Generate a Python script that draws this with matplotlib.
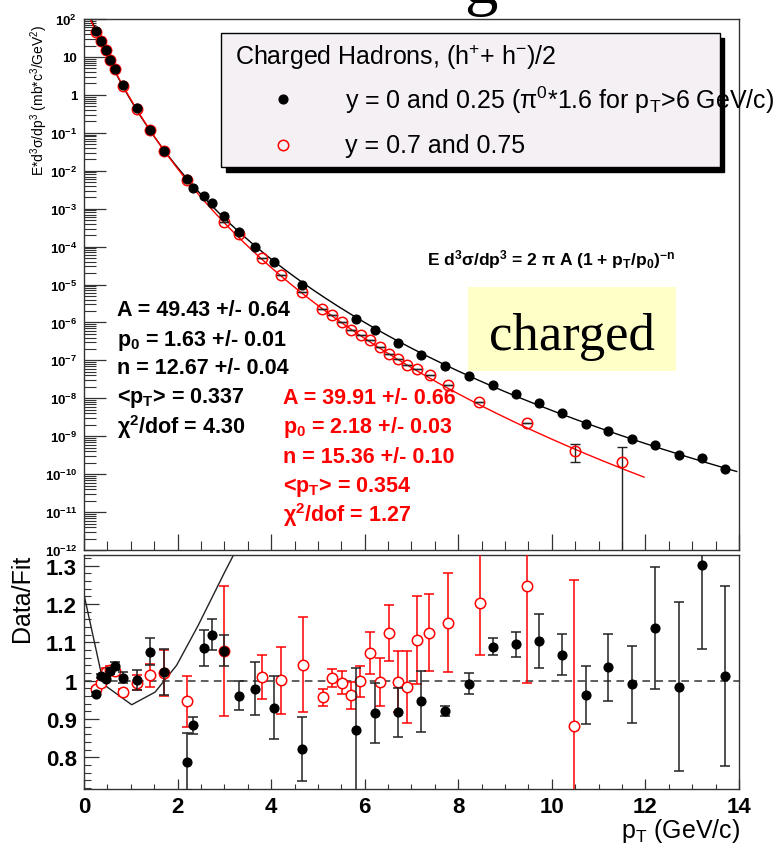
import numpy as np
import matplotlib
matplotlib.use("Agg")
import matplotlib.pyplot as plt
from matplotlib.patches import Rectangle
from matplotlib.ticker import LogLocator, MultipleLocator, NullFormatter

plt.rcParams["font.family"] = ["Liberation Sans", "DejaVu Sans"]
plt.rcParams["mathtext.default"] = "regular"

# ---------------- invariant yields, y = 0 and 0.25 ----------------
pt_mid = [0.25, 0.36, 0.46, 0.56, 0.66, 0.84, 1.13, 1.42, 1.72, 2.21, 2.32, 2.56,
          2.73, 2.99, 3.31, 3.66, 4.06, 4.65, 5.81, 6.23, 6.72, 7.21, 7.71, 8.23,
          8.75, 9.24, 9.72, 10.21, 10.72, 11.21, 11.72, 12.21, 12.71, 13.21, 13.70]
yield_mid = [47, 27, 15, 8.3, 4.8, 1.78, 0.44, 0.12, 0.034, 5.9e-3, 3.5e-3, 2.2e-3,
             1.4e-3, 6.5e-4, 2.5e-4, 1.0e-4, 4.0e-5, 9.8e-6, 1.2e-6, 6.5e-7, 2.85e-7,
             1.4e-7, 6.9e-8, 3.8e-8, 2.2e-8, 1.3e-8, 7.3e-9, 4.1e-9, 2.1e-9, 1.35e-9,
             8.3e-10, 5.9e-10, 3.2e-10, 2.7e-10, 1.4e-10]
ratio_mid = [0.965, 1.012, 1.005, 1.025, 1.038, 1.008, 1.001, 1.075, 1.023, 0.788, 0.883,
             1.084, 1.120, 1.078, 0.961, 0.979, 0.929, 0.821, 0.870, 0.916, 0.918, 0.946,
             0.921, 0.992, 1.089, 1.095, 1.104, 1.068, 0.963, 1.035, 0.990, 1.137, 0.984,
             1.303, 1.011]
ratio_mid_err = [0.005, 0.006, 0.006, 0.008, 0.010, 0.015, 0.026, 0.035, 0.060, 0.074,
                 0.023, 0.047, 0.040, 0.041, 0.037, 0.070, 0.082, 0.083, 0.164, 0.079,
                 0.064, 0.080, 0.014, 0.028, 0.023, 0.033, 0.070, 0.054, 0.075, 0.087,
                 0.100, 0.160, 0.220, 0.220, 0.235]

# ---------------- invariant yields, y = 0.7 and 0.75 ----------------
pt_fwd = [0.25, 0.36, 0.46, 0.56, 0.66, 0.84, 1.13, 1.42, 1.72, 2.21, 3.00, 3.31, 3.81,
          4.21, 4.66, 5.09, 5.31, 5.51, 5.71, 5.92, 6.12, 6.32, 6.52, 6.72, 6.91, 7.11,
          7.39, 7.79, 8.45, 9.46, 10.49, 11.49]
yield_fwd = [46, 27, 15, 8.5, 4.8, 1.75, 0.43, 0.12, 0.034, 5.8e-3, 4.5e-4, 2.2e-4, 5.0e-5,
             1.8e-5, 6.2e-6, 2.2e-6, 1.55e-6, 1.05e-6, 6.3e-7, 4.6e-7, 3.5e-7, 2.2e-7,
             1.45e-7, 1.1e-7, 7.5e-8, 6.0e-8, 4.1e-8, 2.2e-8, 8.1e-9, 2.2e-9, 4.1e-10,
             2.1e-10]
yield_fwd_err = [0] * 30 + [2.0e-10, 3.1e-10]

pt_fwd_ratio = [0.25, 0.36, 0.46, 0.56, 0.66, 0.84, 1.13, 1.42, 1.72, 2.21, 2.99, 3.81,
                4.21, 4.69, 5.11, 5.31, 5.51, 5.71, 5.91, 6.11, 6.32, 6.52, 6.72, 6.91,
                7.11, 7.37, 7.78, 8.46, 9.47, 10.48]
ratio_fwd = [0.978, 0.993, 1.022, 1.027, 1.024, 0.969, 0.995, 1.014, 1.021, 0.946, 1.078,
             1.009, 1.001, 1.042, 0.956, 1.007, 0.994, 0.962, 0.998, 1.072, 0.997, 1.125,
             0.997, 0.984, 1.107, 1.125, 1.151, 1.203, 1.247, 0.882]
ratio_fwd_err = [0.006, 0.006, 0.010, 0.010, 0.010, 0.010, 0.020, 0.030, 0.060, 0.067,
                 0.170, 0.057, 0.088, 0.124, 0.023, 0.023, 0.030, 0.035, 0.041, 0.054,
                 0.063, 0.073, 0.080, 0.094, 0.115, 0.100, 0.129, 0.135, 0.253, 0.382]

# ratio of the two fitted power laws
pt_fit_ratio = [0.0, 0.42, 1.02, 1.52, 1.98, 2.44, 3.01, 3.5]
fit_ratio = [1.225, 0.990, 0.937, 0.970, 1.040, 1.144, 1.284, 1.40]

# power-law fit parameters: E d3s/dp3 = 2 pi A (1 + pT/p0)^-n
A_mid, p0_mid, n_mid = 49.43, 1.63, 12.67
A_fwd, p0_fwd, n_fwd = 39.91, 2.18, 15.36
fit_mid_max, fit_fwd_max = 13.95, 11.97

params_mid = ["A = 49.43 +/- 0.64", "p$_0$ = 1.63 +/- 0.01", "n = 12.67 +/- 0.04",
              "<p$_T$> = 0.337", "χ$^2$/dof = 4.30"]
params_fwd = ["A = 39.91 +/- 0.66", "p$_0$ = 2.18 +/- 0.03", "n = 15.36 +/- 0.10",
              "<p$_T$> = 0.354", "χ$^2$/dof = 1.27"]


def power_law(p, A, p0, n):
    return 2 * np.pi * A * (1 + p / p0) ** (-n)


RED = "#ff0000"
FRAME = "#333333"

fig = plt.figure(figsize=(7.82, 8.45), dpi=100)
ax1 = fig.add_axes([0.1074, 0.3479, 0.8376, 0.6284])
ax2 = fig.add_axes([0.1074, 0.0651, 0.8376, 0.2769])

for ax in (ax1, ax2):
    for s in ax.spines.values():
        s.set_color(FRAME)
        s.set_linewidth(1.0)

# ---------------- upper panel: spectra ----------------
ax1.set_yscale("log")
ax1.set_xlim(0, 14)
ax1.set_ylim(1e-12, 1e2)

pc = np.linspace(0, fit_mid_max, 400)
ax1.plot(pc, power_law(pc, A_mid, p0_mid, n_mid), color="black", lw=1.0, zorder=2)
pf = np.linspace(0, fit_fwd_max, 400)
ax1.plot(pf, power_law(pf, A_fwd, p0_fwd, n_fwd), color=RED, lw=1.0, zorder=2)

ax1.errorbar(pt_fwd, yield_fwd, yerr=yield_fwd_err, fmt="none", ecolor="#222222",
             elinewidth=1.0, capsize=3.5, zorder=3)
ax1.plot(pt_fwd, yield_fwd, "o", ms=7.5, mfc="none", mec=RED, mew=1.1, zorder=4)
ax1.plot(pt_mid, yield_mid, "o", ms=6.3, mfc="black", mec="black", zorder=5)

decades = np.arange(-12, 3)
ylabels = []
for e in decades:
    if e == 0:
        ylabels.append("1")
    elif e == 1:
        ylabels.append("10")
    else:
        ylabels.append(f"10$^{{{e}}}$")
ax1.set_yticks(10.0 ** decades)
ax1.set_yticklabels(ylabels, fontweight="bold", fontsize=9.5)
ax1.yaxis.set_minor_locator(LogLocator(base=10, subs=np.arange(2, 10), numticks=100))
ax1.yaxis.set_minor_formatter(NullFormatter())
ax1.tick_params(axis="y", which="major", direction="in", length=16, width=0.9,
                color=FRAME, pad=5)
ax1.tick_params(axis="y", which="minor", direction="in", length=8.5, width=0.8,
                color=FRAME)
ax1.set_xticks(np.arange(0, 15, 2))
ax1.xaxis.set_minor_locator(MultipleLocator(0.5))
ax1.tick_params(axis="x", which="major", direction="in", length=11.5, width=0.9,
                color=FRAME, labelbottom=False)
ax1.tick_params(axis="x", which="minor", direction="in", length=6.5, width=0.8,
                color=FRAME)

# legend box with drop shadow
bx0, by0, bx1, by1 = 0.2092, 0.7207, 0.9710, 0.9731
sh = 4.5 / 655
shv = 4.5 / 531
ax1.add_patch(Rectangle((bx0 + sh, by0 - shv), bx1 - bx0, by1 - by0, transform=ax1.transAxes,
                        facecolor="black", edgecolor="black", zorder=6, clip_on=False))
ax1.add_patch(Rectangle((bx0, by0), bx1 - bx0, by1 - by0, transform=ax1.transAxes,
                        facecolor="#f4f0f4", edgecolor="black", lw=1.0, zorder=7,
                        clip_on=False))
ax1.text(0.2305, 0.9303, "Charged Hadrons, (h$^{+}$+ h$^{-}$)/2", transform=ax1.transAxes,
         fontsize=18, va="center", ha="left", zorder=8)
ax1.plot([0.3038], [0.8493], "o", ms=6.3, color="black", transform=ax1.transAxes,
         clip_on=False, zorder=8)
ax1.plot([0.3038], [0.7627], "o", ms=7.5, mfc="none", mec=RED, mew=1.1,
         transform=ax1.transAxes, clip_on=False, zorder=8)
ax1.text(0.3985, 0.8493, "y = 0 and 0.25 (π$^0$*1.6 for p$_T$>6 GeV/c)",
         transform=ax1.transAxes, fontsize=18, va="center", ha="left", zorder=8,
         clip_on=False)
ax1.text(0.3985, 0.7627, "y = 0.7 and 0.75", transform=ax1.transAxes, fontsize=18,
         va="center", ha="left", zorder=8)

# fit function and parameters
ax1.text(0.5237, 0.548, "E d$^3$σ/dp$^3$ = 2 π A (1 + p$_T$/p$_0$)$^{-n}$",
         transform=ax1.transAxes, fontsize=12.5, fontweight="bold", va="center",
         ha="left")
for txt, yy in zip(params_mid, [0.4539, 0.3974, 0.3446, 0.2881, 0.2335]):
    ax1.text(0.0504, yy, txt, transform=ax1.transAxes, fontsize=15.5,
             fontweight="bold", va="center", ha="left", color="black")
for txt, yy in zip(params_fwd, [0.2881, 0.2335, 0.1770, 0.1205, 0.0678]):
    ax1.text(0.3038, yy, txt, transform=ax1.transAxes, fontsize=15.5,
             fontweight="bold", va="center", ha="left", color=RED)

# "charged" tag
ax1.add_patch(Rectangle((0.5863, 0.3371), 0.9038 - 0.5863, 0.4953 - 0.3371,
                        transform=ax1.transAxes, facecolor="#ffffc8", edgecolor="none",
                        zorder=1))
ax1.text(0.7443, 0.404, "charged", transform=ax1.transAxes, fontsize=38,
         family="Liberation Serif", va="center", ha="center", zorder=2)

# ---------------- lower panel: data / fit ----------------
ax2.set_xlim(0, 14)
ax2.set_ylim(0.717, 1.328)
ax2.axhline(1.0, color="#333333", lw=1.1, ls=(0, (5, 3.5)), zorder=1)
ax2.plot(pt_fit_ratio, fit_ratio, color="#222222", lw=1.0, zorder=2)

ax2.errorbar(pt_fwd_ratio, ratio_fwd, yerr=ratio_fwd_err, fmt="o", ms=7.5, mfc="white",
             mec=RED, mew=1.1, ecolor=RED, elinewidth=1.1, capsize=3.5, capthick=1.1,
             zorder=3)
ax2.errorbar(pt_mid, ratio_mid, yerr=ratio_mid_err, fmt="o", ms=6.3, mfc="black",
             mec="black", ecolor="#222222", elinewidth=1.1, capsize=3.5, capthick=1.1,
             zorder=4)

ax2.set_yticks([0.8, 0.9, 1.0, 1.1, 1.2, 1.3])
ax2.set_yticklabels(["0.8", "0.9", "1", "1.1", "1.2", "1.3"], fontweight="bold",
                    fontsize=16)
ax2.yaxis.set_minor_locator(MultipleLocator(0.02))
ax2.tick_params(axis="y", which="major", direction="in", length=11, width=0.9,
                color=FRAME, pad=5)
ax2.tick_params(axis="y", which="minor", direction="in", length=5, width=0.8,
                color=FRAME)
ax2.set_xticks(np.arange(0, 15, 2))
ax2.set_xticklabels([str(v) for v in range(0, 15, 2)], fontweight="bold", fontsize=16)
ax2.xaxis.set_minor_locator(MultipleLocator(0.5))
ax2.tick_params(axis="x", which="major", direction="in", length=7, width=0.9,
                color=FRAME, pad=5)
ax2.tick_params(axis="x", which="minor", direction="in", length=3.6, width=0.8,
                color=FRAME)

# axis titles
fig.text(0.0505, 0.8817, "E*d$^3$σ/dp$^3$ (mb*c$^3$/GeV$^2$)", rotation=90,
         fontsize=10, ha="center", va="center")
fig.text(0.0281, 0.2923, "Data/Fit", rotation=90, fontsize=18, ha="center",
         va="center")
fig.text(0.9463, 0.0160, "p$_T$ (GeV/c)", fontsize=18, ha="right", va="center")

# tail of the slide heading above the plot
fig.text(0.615, 1 - 3 / 845, "g", family="Liberation Serif", fontsize=48,
         ha="center", va="baseline")

fig.savefig("out.png", dpi=100)
